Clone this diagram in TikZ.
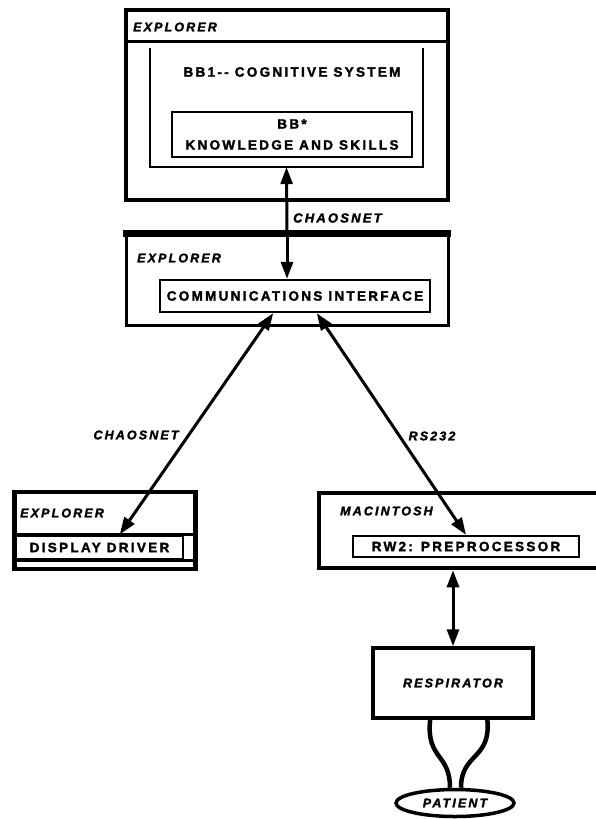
\documentclass[tikz,border=0pt]{standalone}
\usepackage{fontspec}
\setmainfont{Liberation Sans}
\newfontfamily\lblfont[LetterSpace=17, BoldFeatures={FakeBold=2}, BoldItalicFeatures={FakeBold=2}]{Liberation Sans}
\usetikzlibrary{shapes,arrows.meta,positioning,calc}

\tikzset{
  hdr/.style={font=\lblfont\bfseries\itshape\fontsize{12.5}{14}\selectfont, anchor=west, inner sep=0pt},
  boxtxt/.style={font=\lblfont\bfseries\fontsize{13.5}{21}\selectfont},
  frame/.style={draw, line width=4.5pt, inner sep=0pt},
  inbox/.style={draw, line width=2.4pt, inner sep=0pt, boxtxt},
  link/.style={line width=3pt, <->},
  feed/.style={line width=3pt, ->},
  tube/.style={line width=4.5pt},
}

\begin{document}
\begin{tikzpicture}[x=1pt, y=-1pt, >={Triangle[length=17pt,width=12pt]}]
\useasboundingbox (0,0) rectangle (595,819);

% upper explorer
\node[frame, minimum width=322pt, minimum height=190pt] (expA) at (287,105) {};
\draw[line width=3pt] ($(expA.north west)+(0,34)$) -- ($(expA.north east)+(0,34)$);
\node[hdr] (expAlbl) at (133,27) {EXPLORER};
\node[minimum width=273pt, minimum height=119pt, inner sep=0pt] (cogsys) at (286.5,107.5) {};
\draw[line width=2.2pt] (cogsys.north west) -- (cogsys.south west) -- (cogsys.south east) -- (cogsys.north east);
\node[boxtxt] (cogsyslbl) at (292,72) {BB1-{}- COGNITIVE SYSTEM};
\node[inbox, minimum width=240pt, minimum height=45pt, align=center] (bbstar) at (292,134.5) {BB*\\KNOWLEDGE AND SKILLS};

% middle explorer
\node[draw, line width=3pt, minimum width=322pt, minimum height=90pt, inner sep=0pt] (expB) at (287,280) {};
\draw[line width=7pt, shorten <=-1.5pt, shorten >=-1.5pt] (expB.north west) -- (expB.north east);
\node[hdr] (expBlbl) at (137,258) {EXPLORER};
\node[inbox, minimum width=270pt, minimum height=32pt] (comm) at (295,296) {COMMUNICATIONS INTERFACE};
\draw[feed] (expB.north) -- (cogsys.south);
\node[hdr, font=\lblfont\bfseries\itshape\fontsize{13}{15}\selectfont] (chaosA) at (293,218) {CHAOSNET};
\draw[feed] (expB.north) -- (expB.north |- comm.north);

% lower left explorer
\node[frame, minimum width=181pt, minimum height=77pt] (expC) at (105,530.5) {};
\node[hdr] (expClbl) at (20,513) {EXPLORER};
\node[inbox, minimum width=167pt, minimum height=24pt] (disp) at (99.5,547.5) {DISPLAY DRIVER};
\draw[line width=3.5pt] (expC.west |- disp.north) -- (expC.east |- disp.north);
\draw[line width=3pt] (expC.west |- disp.south) -- (expC.east |- disp.south);

% macintosh
\node[frame, minimum width=286pt, minimum height=75pt] (mac) at (462,530.5) {};
\node[hdr] (maclbl) at (340,511) {MACINTOSH};
\node[inbox, minimum width=226pt, minimum height=21pt] (rw2) at (466,546.5) {RW2: PREPROCESSOR};

\draw[link] ($(comm.south west)!0.42!(comm.south east)$) -- ($(disp.north west)!0.62!(disp.north east)$);
\node[hdr, anchor=center] (chaosB) at (136,435) {CHAOSNET};
\draw[link] ($(comm.south west)!0.58!(comm.south east)$) -- (rw2.north);
\node[hdr, anchor=center] (rs) at (432,436) {RS232};

% respirator and patient
\node[draw, line width=3.5pt, minimum width=160pt, minimum height=70pt, hdr, anchor=center] (resp) at (453,683) {RESPIRATOR};
\draw[link] (resp.north) -- (resp.north |- mac.south);
\node[draw, ellipse, line width=3.5pt, minimum width=118pt, minimum height=27pt, hdr, anchor=center] (pat) at (455,803) {PATIENT};
\draw[tube] ($(resp.south west)!0.36!(resp.south east)$) .. controls +(-4,40) and +(0,-35) .. ([xshift=-5pt]pat.north);
\draw[tube] ($(resp.south west)!0.71!(resp.south east)$) .. controls +(4,40) and +(0,-35) .. ([xshift=6pt]pat.north);
\end{tikzpicture}
\end{document}
